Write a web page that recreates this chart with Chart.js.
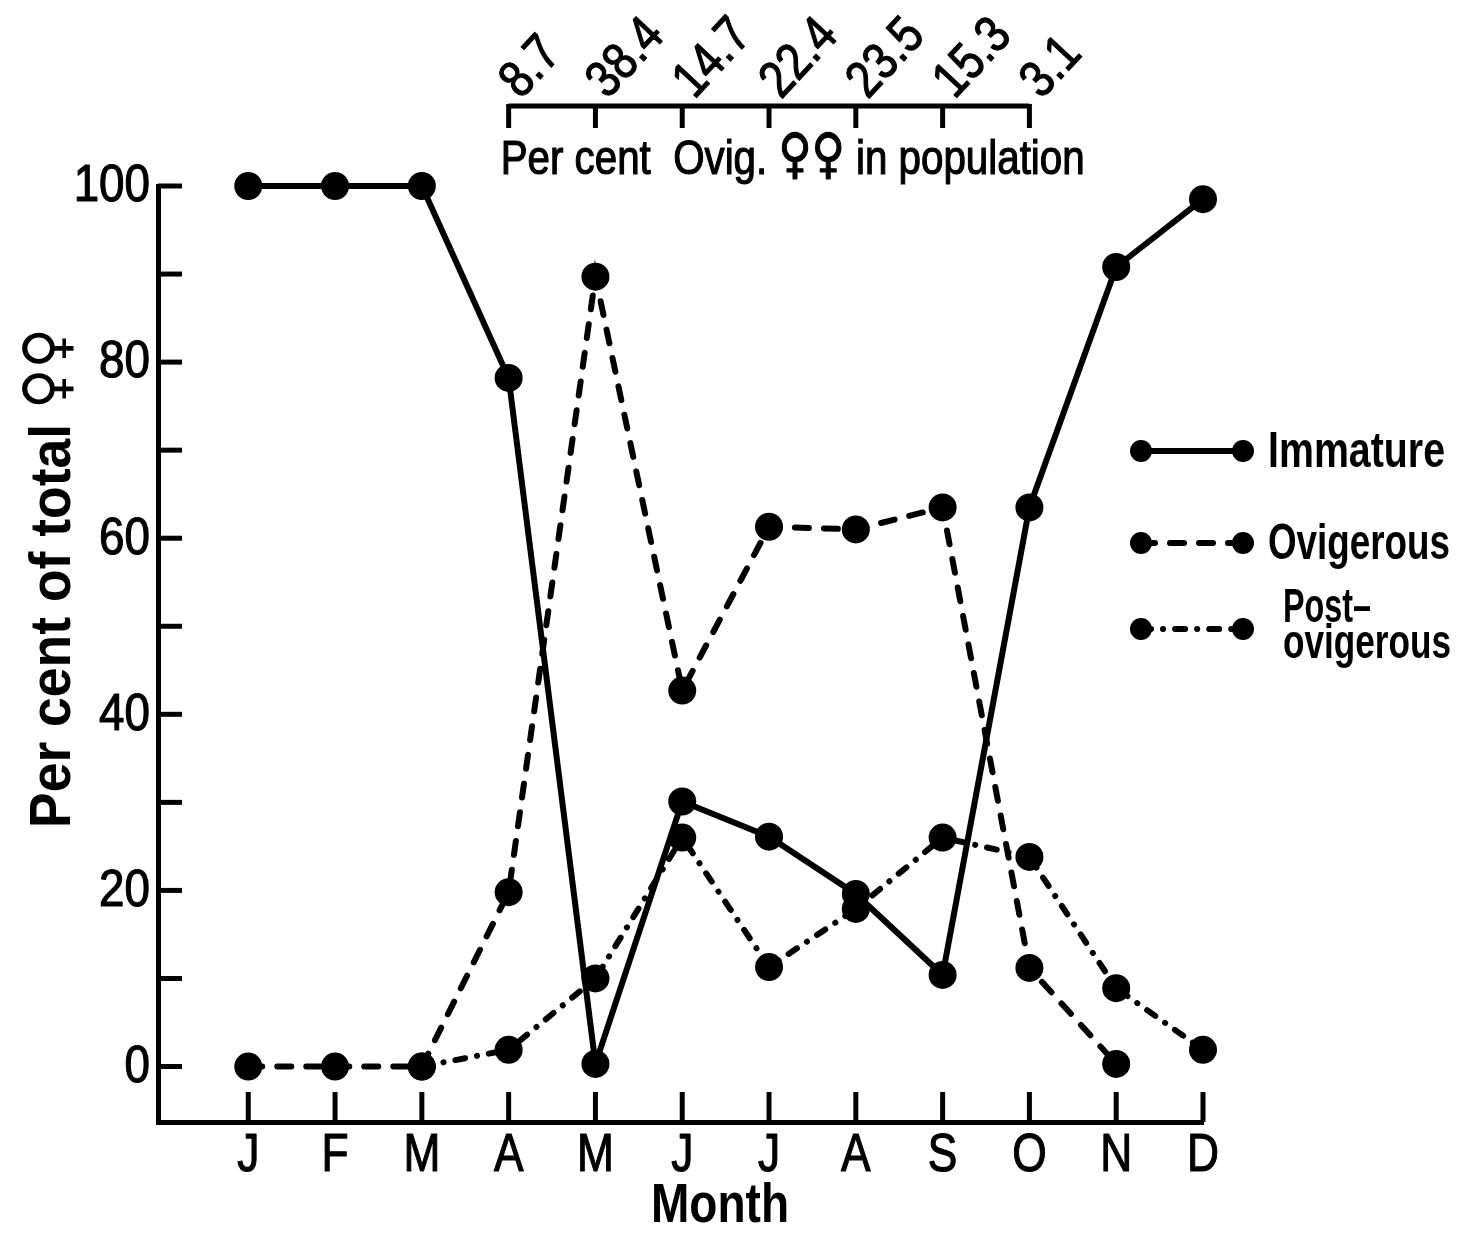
<!DOCTYPE html>
<html>
<head>
<meta charset="utf-8">
<script src="https://cdn.jsdelivr.net/npm/chart.js@4.4.0/dist/chart.umd.min.js"></script>
<style>
  html, body { margin: 0; padding: 0; background: #fff; }
  #wrap { width: 1462px; height: 1239px; }
</style>
</head>
<body>
<div id="wrap"><canvas id="seasonChart" width="1462" height="1239"></canvas></div>
<script>
const months = ['J', 'F', 'M', 'A', 'M', 'J', 'J', 'A', 'S', 'O', 'N', 'D'];
const immature = [100, 100, 100, 78.2, 0.3, 30.1, 26.1, 19.6, 10.4, 63.5, 90.8, 98.5];
const ovigerous = [0, 0, 0, 19.8, 89.7, 42.7, 61.3, 61.0, 63.5, 11.2, 0.3, null];
const postOvigerous = [null, null, 0, 1.9, 10.0, 26.0, 11.3, 17.9, 26.0, 23.8, 8.9, 1.9];

// per cent ovigerous females in population, Apr..Oct
const ovigMonths = [3, 4, 5, 6, 7, 8, 9];
const ovigPctLabels = ['8.7', '38.4', '14.7', '22.4', '23.5', '15.3', '3.1'];

const yTicks = [0, 10, 20, 30, 40, 50, 60, 70, 80, 90, 100];
const yLabelEvery = 20;

const FONT = "'Liberation Sans', Arial, sans-serif";
const SYMBOL_FONT = "'DejaVu Sans', sans-serif";
const FEMALES = '\u2640\u2640';
const DASH = [14, 15];
const DASHDOT = [10, 12, 0.1, 12];

function toPoints(vals) {
  return vals.map((v, i) => ({ x: i, y: v }));
}

function line(ctx, x1, y1, x2, y2) {
  ctx.beginPath();
  ctx.moveTo(x1, y1);
  ctx.lineTo(x2, y2);
  ctx.stroke();
}

function dot(ctx, x, y) {
  ctx.beginPath();
  ctx.arc(x, y, 11, 0, Math.PI * 2);
  ctx.fill();
}

// text runs squeezed horizontally, like the narrow lettering of the original
function drawText(ctx, segs, x, y, opt) {
  if (typeof segs === 'string') segs = [{ t: segs }];
  const fontOf = s => (opt.bold ? 'bold ' : '') + (s.size || opt.size) + 'px ' + (s.family || FONT);
  ctx.save();
  ctx.textAlign = 'left';
  ctx.textBaseline = opt.baseline || 'middle';
  let total = 0;
  const widths = segs.map(s => {
    ctx.font = fontOf(s);
    const w = ctx.measureText(s.t).width;
    total += w;
    return w;
  });
  const sx = opt.width ? opt.width / total : (opt.sx || 1);
  const drawn = total * sx;
  let dx = 0;
  if (opt.align === 'center') dx = -drawn / 2;
  else if (opt.align === 'right') dx = -drawn;
  ctx.translate(x, y);
  if (opt.rotate) ctx.rotate(opt.rotate * Math.PI / 180);
  ctx.translate(dx, 0);
  ctx.scale(sx, 1);
  ctx.lineWidth = opt.stroke || 0;
  ctx.lineJoin = 'round';
  let cx = 0;
  segs.forEach((s, i) => {
    ctx.font = fontOf(s);
    ctx.fillText(s.t, cx, s.dy || 0);
    if (opt.stroke) ctx.strokeText(s.t, cx, s.dy || 0);
    cx += widths[i];
  });
  ctx.restore();
}

const decor = {
  id: 'decor',
  afterDraw(chart) {
    const { ctx, chartArea, scales: { x, y } } = chart;
    ctx.save();
    ctx.strokeStyle = '#000';
    ctx.fillStyle = '#000';

    // inward tick marks and their labels
    yTicks.forEach(v => {
      const py = y.getPixelForValue(v);
      ctx.lineWidth = 5;
      line(ctx, chartArea.left, py, chartArea.left + 24, py);
      if (v % yLabelEvery === 0) {
        drawText(ctx, String(v), chartArea.left - 8, py + 1, { size: 52, sx: 0.88, align: 'right', stroke: 1.2 });
      }
    });
    months.forEach((m, i) => {
      const px = x.getPixelForValue(i);
      ctx.lineWidth = 5;
      line(ctx, px, chartArea.bottom, px, chartArea.bottom - 30);
      drawText(ctx, m, px, 1156, { size: 54, sx: 0.82, align: 'center', stroke: 1.2 });
    });

    // top axis: per cent ovig. females
    const topY = 106;
    const x0 = x.getPixelForValue(ovigMonths[0]);
    const x1 = x.getPixelForValue(ovigMonths[ovigMonths.length - 1]);
    ctx.lineWidth = 5;
    line(ctx, x0, topY, x1, topY);
    ovigMonths.forEach((mi, k) => {
      const px = x.getPixelForValue(mi);
      ctx.lineWidth = 5;
      line(ctx, px, topY - 2, px, topY + 22);
      drawText(ctx, ovigPctLabels[k], px + 12, topY - 6,
        { size: 52, sx: 0.85, baseline: 'alphabetic', rotate: -47, stroke: 1.2 });
    });
    drawText(ctx, [
      { t: 'Per cent  Ovig. ' },
      { t: FEMALES, family: SYMBOL_FONT, size: 54, dy: -2 },
      { t: ' in population' }
    ], x0 - 8, 174, { size: 48, width: 584, baseline: 'alphabetic', stroke: 1.2 });

    // axis titles
    drawText(ctx, 'Month', 720, 1207, { size: 56, bold: true, width: 138, align: 'center' });
    drawText(ctx, [
      { t: 'Per cent of total ' },
      { t: FEMALES, family: SYMBOL_FONT, size: 60, dy: -4 }
    ], 54, 578, { size: 58, bold: true, width: 500, align: 'center', rotate: -90 });

    // legend
    const rows = [
      { dash: [], y: 451, text: ['Immature'], w: [177] },
      { dash: DASH, y: 543, text: ['Ovigerous'], w: [182] },
      { dash: DASHDOT, y: 629, text: ['Post\u2013', 'ovigerous'], w: [88, 168] }
    ];
    rows.forEach(r => {
      ctx.lineWidth = 6;
      ctx.lineCap = 'round';
      ctx.setLineDash(r.dash);
      line(ctx, 1141, r.y, 1243, r.y);
      ctx.setLineDash([]);
      dot(ctx, 1141, r.y);
      dot(ctx, 1243, r.y);
      if (r.text.length === 1) {
        drawText(ctx, r.text[0], 1268, r.y + 2, { size: 50, bold: true, width: r.w[0] });
      } else {
        drawText(ctx, r.text[0], 1283, r.y - 20, { size: 48, bold: true, width: r.w[0] });
        drawText(ctx, r.text[1], 1283, r.y + 16, { size: 48, bold: true, width: r.w[1] });
      }
    });
    ctx.restore();
  }
};

const ctx = document.getElementById('seasonChart').getContext('2d');

const common = {
  borderColor: '#000',
  backgroundColor: '#000',
  pointBackgroundColor: '#000',
  pointBorderColor: '#000',
  pointRadius: 11,
  pointHoverRadius: 11,
  borderWidth: 6,
  borderCapStyle: 'round',
  tension: 0,
  clip: false,
  spanGaps: false
};

const chart = new Chart(ctx, {
  type: 'line',
  data: {
    datasets: [
      Object.assign({ label: 'Immature', data: toPoints(immature) }, common),
      Object.assign({ label: 'Ovigerous', data: toPoints(ovigerous), borderDash: DASH }, common),
      Object.assign({ label: 'Post-ovigerous', data: toPoints(postOvigerous), borderDash: DASHDOT }, common)
    ]
  },
  options: {
    responsive: false,
    animation: false,
    events: [],
    layout: { padding: { left: 0, top: 186, right: 259, bottom: 0 } },
    plugins: {
      legend: { display: false },
      title: { display: false },
      tooltip: { enabled: false }
    },
    scales: {
      x: {
        type: 'linear',
        min: -1.04,
        max: 11,
        grid: { display: false },
        border: { display: true, color: '#000', width: 5 },
        afterFit(scale) { scale.height = 117; },
        afterBuildTicks(scale) { scale.ticks = months.map((m, i) => ({ value: i })); },
        ticks: { display: false }
      },
      y: {
        type: 'linear',
        min: -6.3,
        max: 100,
        grid: { display: false },
        border: { display: true, color: '#000', width: 5 },
        afterFit(scale) { scale.width = 158; },
        afterBuildTicks(scale) { scale.ticks = yTicks.map(v => ({ value: v })); },
        ticks: { display: false }
      }
    }
  },
  plugins: [decor]
});
</script>
</body>
</html>
